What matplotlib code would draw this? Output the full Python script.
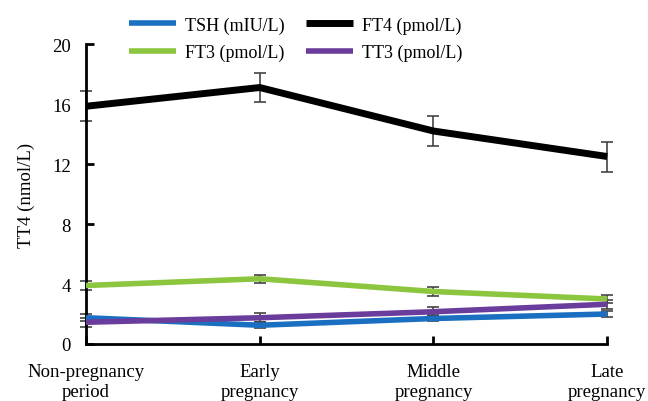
import numpy as np
import matplotlib.pyplot as plt

# values
stages = ['Non-pregnancy\nperiod', 'Early\npregnancy', 'Middle\npregnancy', 'Late\npregnancy']

tsh = [1.75, 1.25, 1.7, 2.0]
tsh_err = [0.25, 0.2, 0.2, 0.2]

ft3 = [3.9, 4.35, 3.5, 3.0]
ft3_err = [0.3, 0.28, 0.28, 0.28]

ft4 = [15.85, 17.1, 14.2, 12.5]
ft4_err = [1.0, 0.97, 1.0, 1.0]

tt3 = [1.45, 1.75, 2.15, 2.65]
tt3_err = [0.3, 0.3, 0.3, 0.3]

series = [
    ('TSH (mIU/L)', tsh, tsh_err, '#1a6fc0', 4),
    ('FT3 (pmol/L)', ft3, ft3_err, '#8cc63e', 4),
    ('FT4 (pmol/L)', ft4, ft4_err, '#000000', 5),
    ('TT3 (pmol/L)', tt3, tt3_err, '#6a3c9c', 4),
]

plt.rcParams['font.family'] = ['Liberation Serif', 'DejaVu Serif']

fig = plt.figure(figsize=(6.48, 4.02), dpi=100)
ax = fig.add_axes([0.1327, 0.1418, 0.8043, 0.7462])

x = np.arange(len(stages))
handles = []
for name, vals, errs, col, lw in series:
    ax.errorbar(x, vals, yerr=errs, fmt='none', ecolor='#444444',
                elinewidth=1.2, capsize=4.5, capthick=1.2, zorder=2, clip_on=False)
    h, = ax.plot(x, vals, color=col, lw=lw, zorder=3, clip_on=False,
                 solid_capstyle='butt', label=name)
    handles.append(h)

ax.set_xlim(0, 3)
ax.set_ylim(0, 20)
ax.set_yticks([0, 4, 8, 12, 16, 20])
ax.set_xticks(x)
ax.set_xticklabels(stages)
ax.set_ylabel('TT4 (nmol/L)', fontsize=13.5, labelpad=12)

for s in ['top', 'right']:
    ax.spines[s].set_visible(False)
for s in ['left', 'bottom']:
    ax.spines[s].set_linewidth(2)
ax.tick_params(direction='in', length=6, width=2, labelsize=13.5)
ax.tick_params(axis='x', pad=14)
ax.tick_params(axis='y', pad=11)

fig.legend(handles=handles, loc='upper center', bbox_to_anchor=(0.456, 0.997),
           ncol=2, frameon=False, fontsize=13, handlelength=2.6,
           columnspacing=1.2, labelspacing=0.55, handletextpad=0.5)

fig.savefig('out.png', dpi=100)
